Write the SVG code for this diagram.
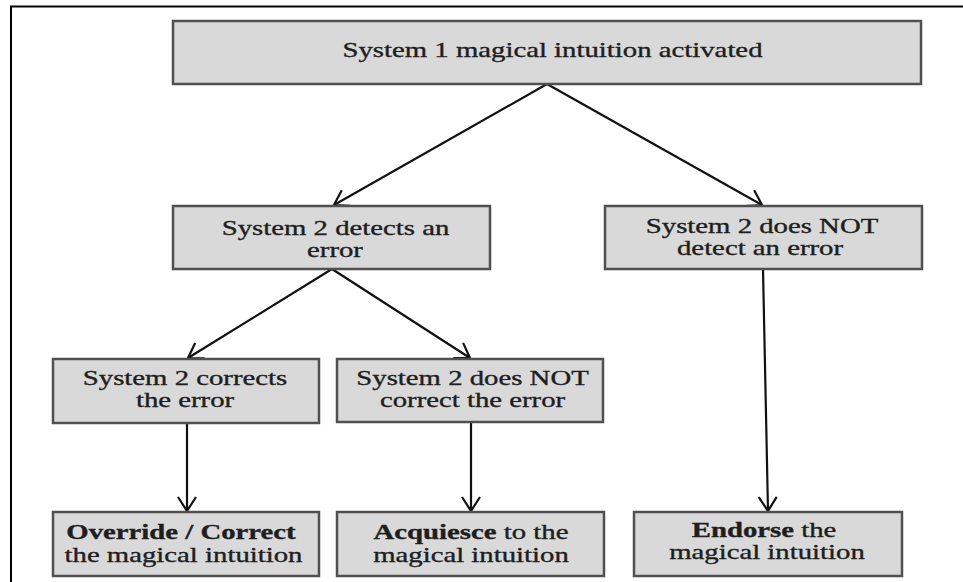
<svg xmlns="http://www.w3.org/2000/svg" width="963" height="582" viewBox="0 0 963 582">
  <style>
    .box { fill: #d9d9d9; stroke: #505050; stroke-width: 2.5; }
    .lbl { font-family: "Liberation Serif", "Times New Roman", serif; font-size: 21px; fill: #1e1e1e; stroke: #1e1e1e; stroke-width: 0.35; text-anchor: middle; }
    .b { font-weight: bold; }
    .conn { stroke: #111111; stroke-width: 2.2; fill: none; marker-end: url(#arr); }
  </style>
  <defs>
    <marker id="arr" viewBox="0 0 16 20" refX="15" refY="10" markerWidth="16" markerHeight="20" markerUnits="userSpaceOnUse" orient="auto">
      <path d="M1,1 L15,10 L1,19" fill="none" stroke="#111111" stroke-width="2.2"/>
    </marker>
  </defs>
  <rect x="0" y="0" width="963" height="582" fill="#ffffff"/>
  <polyline points="11,582 11,6.5 963,6.5" fill="none" stroke="#000000" stroke-width="2"/>

  <g id="connectors">
    <line class="conn" x1="547" y1="84" x2="334" y2="205"/>
    <line class="conn" x1="547" y1="84" x2="762" y2="205"/>
    <line class="conn" x1="332" y1="269" x2="188" y2="358"/>
    <line class="conn" x1="332" y1="269" x2="470" y2="358"/>
    <line class="conn" x1="187" y1="423" x2="187" y2="511"/>
    <line class="conn" x1="471" y1="422" x2="471" y2="511"/>
    <line class="conn" x1="763" y1="269" x2="768" y2="511"/>
  </g>

  <g id="n1">
    <rect class="box" x="173" y="21" width="748" height="63"/>
    <text class="lbl" transform="translate(552.5,57) scale(1.37,1)">System 1 magical intuition activated</text>
  </g>

  <g id="n2a">
    <rect class="box" x="173" y="206" width="317" height="63"/>
    <text class="lbl" transform="translate(335.5,235) scale(1.37,1)">System 2 detects an</text>
    <text class="lbl" transform="translate(335,257) scale(1.37,1)">error</text>
  </g>

  <g id="n2b">
    <rect class="box" x="605" y="206" width="317" height="63"/>
    <text class="lbl" transform="translate(762,233) scale(1.37,1)">System 2 does NOT</text>
    <text class="lbl" transform="translate(760,255) scale(1.37,1)">detect an error</text>
  </g>

  <g id="n3a">
    <rect class="box" x="53" y="359" width="266" height="64"/>
    <text class="lbl" transform="translate(185,385) scale(1.37,1)">System 2 corrects</text>
    <text class="lbl" transform="translate(185,407) scale(1.37,1)">the error</text>
  </g>

  <g id="n3b">
    <rect class="box" x="337" y="359" width="266" height="63"/>
    <text class="lbl" transform="translate(472.5,385) scale(1.37,1)">System 2 does NOT</text>
    <text class="lbl" transform="translate(472.5,407) scale(1.37,1)">correct the error</text>
  </g>

  <g id="n4a">
    <rect class="box" x="53" y="512" width="266" height="64"/>
    <text class="lbl b" transform="translate(181,539) scale(1.37,1)">Override / Correct</text>
    <text class="lbl" transform="translate(183.5,562) scale(1.37,1)">the magical intuition</text>
  </g>

  <g id="n4b">
    <rect class="box" x="337" y="512" width="267" height="64"/>
    <text class="lbl" transform="translate(471,539) scale(1.37,1)"><tspan class="b">Acquiesce</tspan> to the</text>
    <text class="lbl" transform="translate(471,562) scale(1.37,1)">magical intuition</text>
  </g>

  <g id="n4c">
    <rect class="box" x="634" y="512" width="268" height="64"/>
    <text class="lbl" transform="translate(764,537) scale(1.37,1)"><tspan class="b">Endorse</tspan> the</text>
    <text class="lbl" transform="translate(767,559) scale(1.37,1)">magical intuition</text>
  </g>
</svg>
